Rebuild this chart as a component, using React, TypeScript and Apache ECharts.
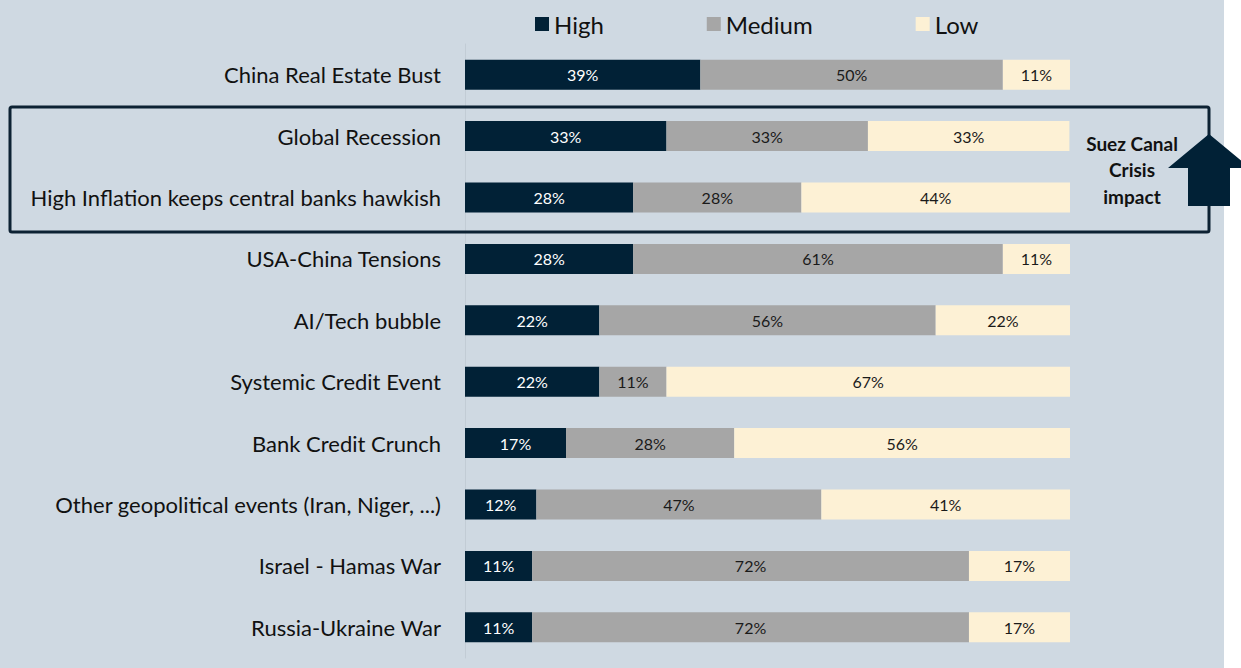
import React, { useEffect, useRef } from "react";
import * as echarts from "echarts";

const categories = [
  "China Real Estate Bust",
  "Global Recession",
  "High Inflation keeps central banks hawkish",
  "USA-China Tensions",
  "AI/Tech bubble",
  "Systemic Credit Event",
  "Bank Credit Crunch",
  "Other geopolitical events (Iran, Niger, ...)",
  "Israel - Hamas War",
  "Russia-Ukraine War",
];
const highValues = [38.9, 33.3, 27.8, 27.8, 22.2, 22.2, 16.7, 11.8, 11.1, 11.1];
const mediumValues = [50.0, 33.3, 27.8, 61.1, 55.6, 11.1, 27.8, 47.1, 72.2, 72.2];
const lowValues = [11.1, 33.3, 44.4, 11.1, 22.2, 66.7, 55.6, 41.2, 16.7, 16.7];
const seriesNames = ["High", "Medium", "Low"];
const annotationLines = ["Suez Canal", "Crisis", "impact"];

const FONT = "Lato, 'Open Sans', sans-serif";
const BG = "#cfd9e2";
const NAVY = "#012136";

export default function App() {
  const ref = useRef<HTMLDivElement>(null);
  useEffect(() => {
    document.body.style.margin = "0";
    const chart = echarts.init(ref.current!, undefined, { renderer: "svg" });
    const colors = [NAVY, "#a6a6a6", "#fdf1d5"];
    const labelColors = ["#ffffff", "#1a1a1a", "#1a1a1a"];
    const datasets = [highValues, mediumValues, lowValues];
    chart.setOption({
      animation: false,
      textStyle: { fontFamily: FONT },
      legend: {
        top: 7,
        left: 530,
        itemWidth: 14,
        itemHeight: 14,
        itemGap: 103,
        icon: "rect",
        textStyle: { fontSize: 24, color: "#111", fontFamily: FONT },
        data: seriesNames,
      },
      grid: { left: 465, right: 171, top: 44, height: 614, containLabel: false },
      xAxis: {
        type: "value",
        min: 0,
        max: 100,
        show: false,
      },
      yAxis: {
        type: "category",
        inverse: true,
        data: categories,
        axisLine: { show: true, lineStyle: { color: "#c2ccd5", width: 1 } },
        axisTick: { show: false },
        axisLabel: { fontSize: 22, color: "#111", margin: 24, fontFamily: FONT },
      },
      series: seriesNames.map((name, i) => ({
        name,
        type: "bar",
        stack: "total",
        barWidth: 30,
        data: datasets[i],
        itemStyle: { color: colors[i] },
        label: {
          show: true,
          position: "inside",
          fontSize: 16,
          color: labelColors[i],
          fontFamily: FONT,
          formatter: (p: any) => Math.round(p.value) + "%",
        },
      })),
      graphic: [
        {
          type: "rect",
          shape: { x: 10, y: 107, width: 1199, height: 125, r: 2 },
          style: { fill: "none", stroke: "#0d2233", lineWidth: 3 },
          z: 10,
        },
        {
          type: "polygon",
          shape: {
            points: [
              [1209, 134],
              [1168, 168],
              [1188, 168],
              [1188, 206],
              [1230, 206],
              [1230, 168],
              [1250, 168],
            ],
          },
          style: { fill: NAVY },
          z: 11,
        },
        ...annotationLines.map((t, k) => ({
          type: "text",
          x: 1132,
          y: 143 + k * 26.5,
          z: 12,
          style: {
            text: t,
            fill: "#111",
            font: `bold 19px ${FONT}`,
            textAlign: "center",
            textVerticalAlign: "middle",
          },
        })),
      ],
    });
    return () => chart.dispose();
  }, []);
  return (
    <div style={{ position: "relative", width: 1241, height: 668, background: "#ffffff", overflow: "hidden" }}>
      <div style={{ position: "absolute", left: 0, top: 0, width: 1224, height: 668, background: BG }} />
      <div ref={ref} style={{ position: "absolute", left: 0, top: 0, width: 1241, height: 668 }} />
    </div>
  );
}
